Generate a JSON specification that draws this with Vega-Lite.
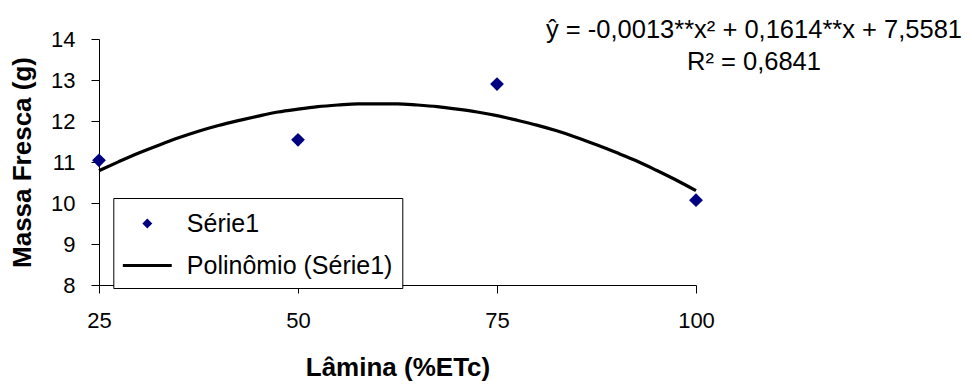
{
  "$schema": "https://vega.github.io/schema/vega-lite/v6.json",
  "width": 597,
  "height": 246,
  "autosize": {"type": "none"},
  "padding": {"left": 99, "top": 39, "right": 276, "bottom": 101},
  "background": "white",
  "title": {
    "text": "ŷ = -0,0013**x² + 0,1614**x + 7,5581",
    "subtitle": "R² = 0,6841",
    "orient": "top",
    "anchor": "end",
    "frame": "group",
    "align": "center",
    "dx": 58,
    "offset": -47,
    "font": "Liberation Sans",
    "fontSize": 25.5,
    "fontWeight": "normal",
    "color": "black",
    "subtitleFont": "Liberation Sans",
    "subtitleFontSize": 25.5,
    "subtitleColor": "black",
    "subtitlePadding": 6
  },
  "config": {
    "view": {"stroke": null},
    "axis": {
      "grid": false,
      "domainColor": "black",
      "tickColor": "black",
      "labelColor": "black",
      "titleColor": "black",
      "labelFont": "Liberation Sans",
      "titleFont": "Liberation Sans",
      "labelFontSize": 22,
      "titleFontSize": 26,
      "titleFontWeight": "bold"
    }
  },
  "datasets": {
    "obs": [
      {"lamina": 25, "massa": 11.04, "serie": "Série1"},
      {"lamina": 50, "massa": 11.54, "serie": "Série1"},
      {"lamina": 75, "massa": 12.9, "serie": "Série1"},
      {"lamina": 100, "massa": 10.07, "serie": "Série1"}
    ],
    "curve": [
      {"lamina": 25, "massa": 10.79, "serie": "Polinômio (Série1)"},
      {"lamina": 27.5, "massa": 11.01, "serie": "Polinômio (Série1)"},
      {"lamina": 30, "massa": 11.22, "serie": "Polinômio (Série1)"},
      {"lamina": 32.5, "massa": 11.41, "serie": "Polinômio (Série1)"},
      {"lamina": 35, "massa": 11.59, "serie": "Polinômio (Série1)"},
      {"lamina": 37.5, "massa": 11.75, "serie": "Polinômio (Série1)"},
      {"lamina": 40, "massa": 11.89, "serie": "Polinômio (Série1)"},
      {"lamina": 42.5, "massa": 12.01, "serie": "Polinômio (Série1)"},
      {"lamina": 45, "massa": 12.12, "serie": "Polinômio (Série1)"},
      {"lamina": 47.5, "massa": 12.22, "serie": "Polinômio (Série1)"},
      {"lamina": 50, "massa": 12.29, "serie": "Polinômio (Série1)"},
      {"lamina": 52.5, "massa": 12.35, "serie": "Polinômio (Série1)"},
      {"lamina": 55, "massa": 12.39, "serie": "Polinômio (Série1)"},
      {"lamina": 57.5, "massa": 12.42, "serie": "Polinômio (Série1)"},
      {"lamina": 60, "massa": 12.42, "serie": "Polinômio (Série1)"},
      {"lamina": 62.5, "massa": 12.42, "serie": "Polinômio (Série1)"},
      {"lamina": 65, "massa": 12.39, "serie": "Polinômio (Série1)"},
      {"lamina": 67.5, "massa": 12.35, "serie": "Polinômio (Série1)"},
      {"lamina": 70, "massa": 12.29, "serie": "Polinômio (Série1)"},
      {"lamina": 72.5, "massa": 12.22, "serie": "Polinômio (Série1)"},
      {"lamina": 75, "massa": 12.13, "serie": "Polinômio (Série1)"},
      {"lamina": 77.5, "massa": 12.02, "serie": "Polinômio (Série1)"},
      {"lamina": 80, "massa": 11.9, "serie": "Polinômio (Série1)"},
      {"lamina": 82.5, "massa": 11.76, "serie": "Polinômio (Série1)"},
      {"lamina": 85, "massa": 11.6, "serie": "Polinômio (Série1)"},
      {"lamina": 87.5, "massa": 11.42, "serie": "Polinômio (Série1)"},
      {"lamina": 90, "massa": 11.23, "serie": "Polinômio (Série1)"},
      {"lamina": 92.5, "massa": 11.03, "serie": "Polinômio (Série1)"},
      {"lamina": 95, "massa": 10.8, "serie": "Polinômio (Série1)"},
      {"lamina": 97.5, "massa": 10.56, "serie": "Polinômio (Série1)"},
      {"lamina": 100, "massa": 10.3, "serie": "Polinômio (Série1)"}
    ]
  },
  "layer": [
    {
      "data": {"name": "curve"},
      "mark": {"type": "line", "strokeWidth": 3.2, "interpolate": "monotone"},
      "encoding": {
        "x": {
          "field": "lamina",
          "type": "quantitative",
          "scale": {"domain": [25, 100], "nice": false, "zero": false},
          "axis": {
            "title": "Lâmina (%ETc)",
            "values": [25, 50, 75, 100],
            "tickSize": 8,
            "labelPadding": 17,
            "labelFlush": false,
            "titlePadding": 23,
            "titleFontSize": 26
          }
        },
        "y": {
          "field": "massa",
          "type": "quantitative",
          "scale": {"domain": [8, 14], "nice": false, "zero": false},
          "axis": {
            "title": "Massa Fresca (g)",
            "values": [8, 9, 10, 11, 12, 13, 14],
            "tickSize": 8,
            "labelPadding": 16,
            "titlePadding": 15,
            "titleFontSize": 26
          }
        },
        "color": {
          "field": "serie",
          "type": "nominal",
          "scale": {"domain": ["Série1", "Polinômio (Série1)"], "range": ["#000080", "#000000"]},
          "legend": {
            "title": null,
            "orient": "none",
            "legendX": 14.3,
            "legendY": 159,
            "strokeColor": "black",
            "fillColor": "white",
            "padding": 9,
            "labelFontSize": 25,
            "labelLimit": 400,
            "labelOffset": 23,
            "symbolOffset": 8.5,
            "rowPadding": 12,
            "encoding": {
              "symbols": {
                "shape": {"condition": {"test": "datum.value === 'Série1'", "value": "M-0.19,0L0,-0.19L0.19,0L0,0.19Z"}, "value": "M-1.63,0L1.63,0"},
                "size": {"value": 900},
                "strokeWidth": {"value": 3},
                "fill": {"condition": {"test": "datum.value === 'Série1'", "value": "#000080"}, "value": "transparent"},
                "stroke": {"condition": {"test": "datum.value === 'Série1'", "value": "#000080"}, "value": "#000000"}
              }
            }
          }
        }
      }
    },
    {
      "data": {"name": "obs"},
      "mark": {"type": "point", "shape": "diamond", "filled": true, "size": 190, "opacity": 1},
      "encoding": {
        "x": {"field": "lamina", "type": "quantitative"},
        "y": {"field": "massa", "type": "quantitative"},
        "color": {"field": "serie", "type": "nominal"}
      }
    }
  ]
}
